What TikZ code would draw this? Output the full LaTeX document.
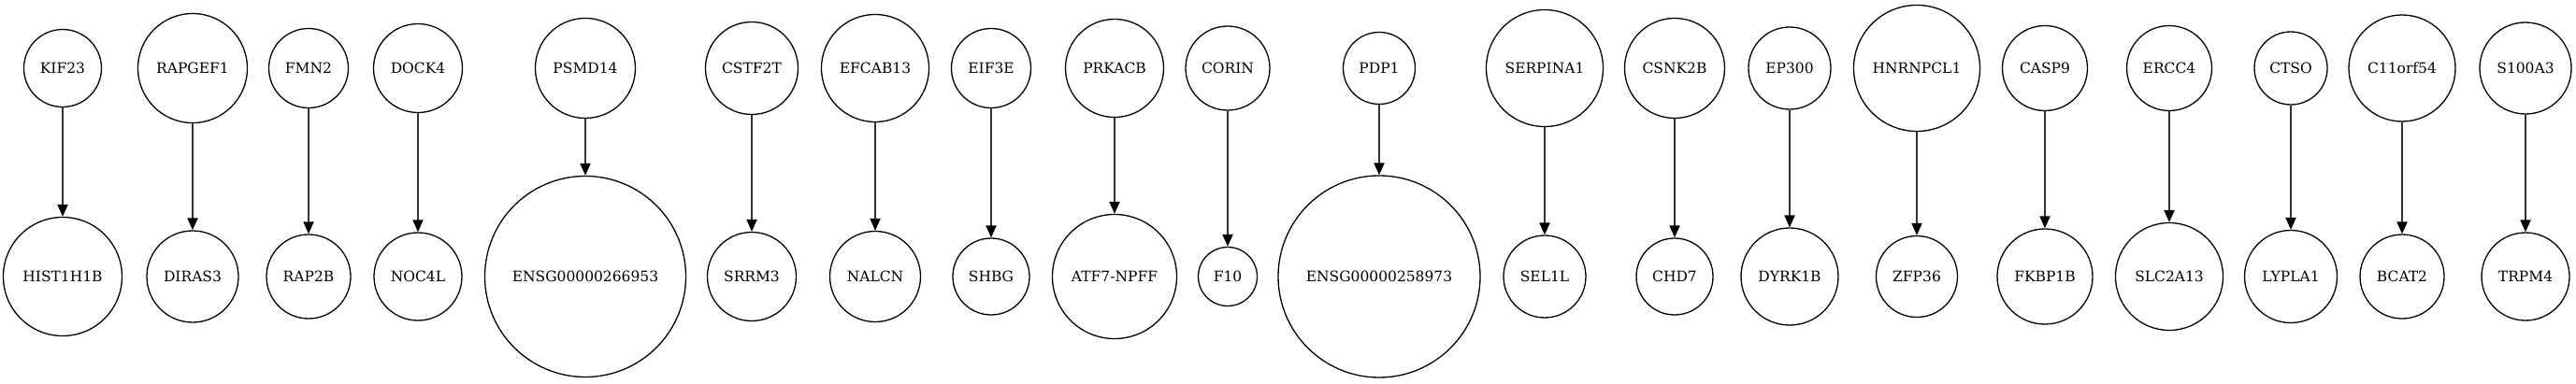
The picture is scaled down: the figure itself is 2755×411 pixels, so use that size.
\documentclass[tikz,border=0pt]{standalone}
\usepackage{fontspec}
\setmainfont{DejaVu Serif}
\usetikzlibrary{arrows.meta}
\tikzset{
  gene/.style={circle,draw=black,line width=1.3pt,inner sep=0pt,
    font=\fontsize{15.5}{18}\selectfont},
  link/.style={line width=2pt,draw=black!80,
    -{Triangle[length=13pt,width=11pt,fill=black,color=black]}}
}
\begin{document}
\begin{tikzpicture}[x=1pt,y=-1pt]
\useasboundingbox (0,0) rectangle (2755,411);
\foreach \i/\x/\ta/\da/\tb/\db in {
 1/67/KIF23/83/HIST1H1B/127,
 2/206/RAPGEF1/117/DIRAS3/98,
 3/330/FMN2/85/RAP2B/90,
 4/447/DOCK4/95/NOC4L/94,
 5/626/PSMD14/107/ENSG00000266953/215,
 6/804/CSTF2T/99/SRRM3/95,
 7/936/EFCAB13/115/NALCN/97,
 8/1060/EIF3E/85/SHBG/82,
 9/1192/PRKACB/105/ATF7-NPFF/133,
 10/1313/CORIN/90/F10/63,
 11/1475/PDP1/77/ENSG00000258973/216,
 12/1652/SERPINA1/125/SEL1L/88,
 13/1791/CSNK2B/107/CHD7/82,
 14/1914/EP300/88/DYRK1B/104,
 15/2050/HNRNPCL1/135/ZFP36/87,
 16/2187/CASP9/91/FKBP1B/102,
 17/2320/ERCC4/91/SLC2A13/115,
 18/2450/CTSO/78/LYPLA1/99,
 19/2569/C11orf54/114/BCAT2/90,
 20/2701/S100A3/98/TRPM4/94}
{
  \node[gene,minimum size=\da pt] (t\i) at (\x,73) {\ta};
  \node[gene,minimum size=\db pt] (b\i) at (\x,296) {\tb};
  \draw[link] (t\i) -- (b\i);
}
\end{tikzpicture}
\end{document}
